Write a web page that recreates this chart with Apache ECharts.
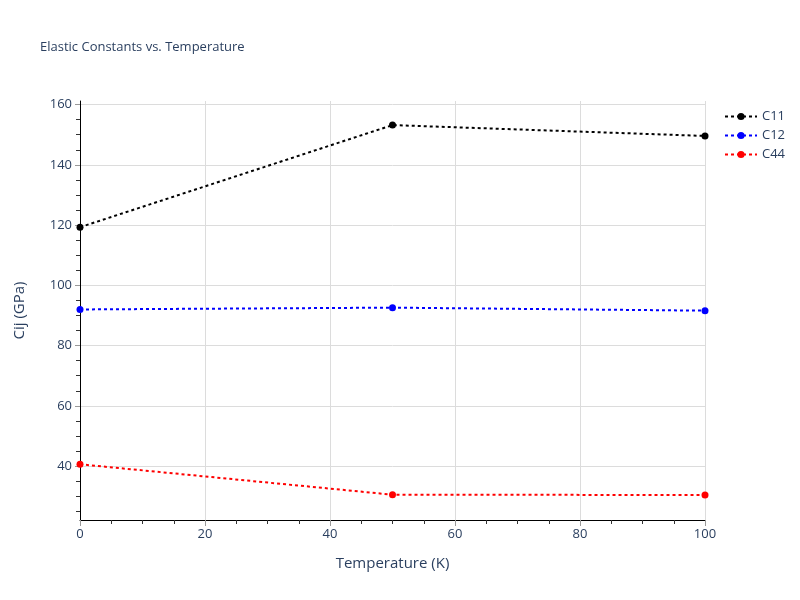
<!DOCTYPE html>
<html><head><meta charset="utf-8">
<script src="https://cdn.jsdelivr.net/npm/echarts@6/dist/echarts.min.js"></script>
<style>html,body{margin:0;padding:0;background:#fff}#c{width:800px;height:600px}</style>
</head><body><div id="c"></div>
<script>
const temps = [0, 50, 100];
const c11 = [119.3, 153.2, 149.6];
const c12 = [92.0, 92.6, 91.6];
const c44 = [40.6, 30.5, 30.4];
const yMajorTicks = [40, 60, 80, 100, 120, 140, 160];
const yMinorTicks = [25, 30, 35, 45, 50, 55, 65, 70, 75, 85, 90, 95, 105, 110, 115, 125, 130, 135, 145, 150, 155];

const font = '"Open Sans", "Noto Sans", sans-serif';
const txt = '#2a3f5f';
const chart = echarts.init(document.getElementById('c'), null, {renderer: 'canvas'});
function mk(name, data, color) {
  return {
    name, type: 'line', data: temps.map((t, i) => [t, data[i]]),
    symbol: 'circle', symbolSize: 7, showSymbol: true,
    lineStyle: {color, width: 2, type: [3, 3]},
    itemStyle: {color}, emphasis: {disabled: true}, animation: false
  };
}
chart.setOption({
  animation: false,
  textStyle: {fontFamily: font},
  title: {text: 'Elastic Constants vs. Temperature', left: 35, top: 36,
    textStyle: {fontFamily: font, fontSize: 13, fontWeight: 'normal', color: txt}},
  legend: {orient: 'vertical', left: 719, top: 105, itemGap: 6, itemWidth: 32, itemHeight: 9,
    textStyle: {fontFamily: font, fontSize: 13, color: txt},
    data: ['C11', 'C12', 'C44']},
  grid: {left: 80, right: 95, top: 101, bottom: 80, containLabel: false},
  xAxis: {type: 'value', min: 0, max: 100, interval: 20,
    name: 'Temperature (K)', nameLocation: 'middle', nameGap: 36,
    nameTextStyle: {fontFamily: font, fontSize: 15, color: txt},
    axisLine: {show: true, onZero: false, lineStyle: {color: '#000', width: 1}},
    axisTick: {show: true, length: 6, lineStyle: {color: '#999'}},
    minorTick: {show: true, splitNumber: 4, length: 4, lineStyle: {color: '#333'}},
    axisLabel: {fontFamily: font, fontSize: 13, color: txt, margin: 8},
    splitLine: {show: true, lineStyle: {color: '#dcdcdc', width: 1}}},
  yAxis: [{type: 'value', min: 22.1, max: 161.2,
    name: 'Cij (GPa)', nameLocation: 'middle', nameGap: 53,
    nameTextStyle: {fontFamily: font, fontSize: 15, color: txt},
    axisLine: {show: true, onZero: false, lineStyle: {color: '#000', width: 1}},
    axisTick: {show: true, length: 5, customValues: yMajorTicks, lineStyle: {color: '#999'}},
    axisLabel: {fontFamily: font, fontSize: 13, color: txt, margin: 8, customValues: yMajorTicks},
    splitLine: {show: true, lineStyle: {color: '#dcdcdc', width: 1}}},
   {type: 'value', min: 22.1, max: 161.2, position: 'left',
    axisLine: {show: false},
    axisTick: {show: true, length: 4, customValues: yMinorTicks, lineStyle: {color: '#333'}},
    axisLabel: {show: false, customValues: yMinorTicks},
    splitLine: {show: false}}],
  series: [mk('C11', c11, '#000000'), mk('C12', c12, '#0000ff'), mk('C44', c44, '#ff0000')]
});
</script></body></html>
